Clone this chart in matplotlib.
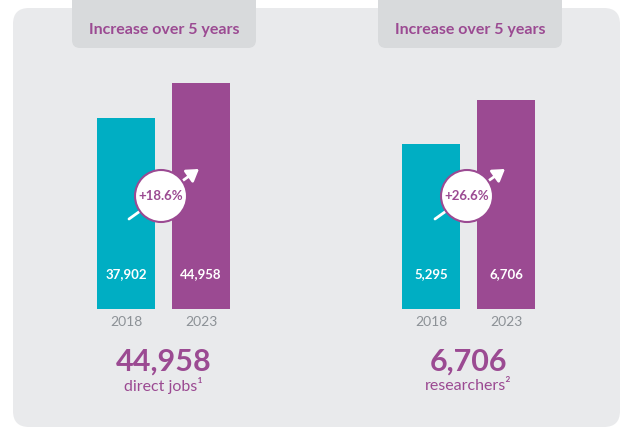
import matplotlib
matplotlib.use('Agg')
import matplotlib.pyplot as plt
from matplotlib.patches import FancyBboxPatch, Circle, FancyArrowPatch

plt.rcParams['font.family'] = ['Lato', 'DejaVu Sans']

# data
years = ['2018', '2023']
jobs = [37902, 44958]
researchers = [5295, 6706]
growth = ['+18.6%', '+26.6%']
totals = ['44,958', '6,706']
captions = ['direct jobs\u00b9', 'researchers\u00b2']
header = 'Increase over 5 years'

teal = '#00AEC3'
purple = '#9B4A92'
panel = '#E9EAEC'
tab = '#D8DADC'
grey = '#8C9196'

W, H = 643, 440
fig = plt.figure(figsize=(W / 100, H / 100), dpi=100)
fig.patch.set_facecolor('white')


def pixel_axes(z):
    a = fig.add_axes([0, 0, 1, 1], zorder=z)
    a.set_xlim(0, W)
    a.set_ylim(H, 0)
    a.axis('off')
    a.patch.set_alpha(0)
    return a


def px(x, y, w, h):
    # pixel box (top-left origin) -> figure fraction rect
    return [x / W, 1 - (y + h) / H, w / W, h / H]


bg = pixel_axes(0)
top = pixel_axes(10)

bg.add_patch(FancyBboxPatch((13, 8), 607, 419, boxstyle='round,pad=0,rounding_size=16',
                            fc=panel, ec='none'))

panels = [
    dict(vals=jobs, x0=72, bars=(97, 172), top=83, circ=(161, 196)),
    dict(vals=researchers, x0=378, bars=(402, 477), top=100, circ=(467, 196)),
]

bottom = 309
bw = 58
for i, p in enumerate(panels):
    # header tab
    bg.add_patch(FancyBboxPatch((p['x0'], 0), 184, 48, boxstyle='round,pad=0,rounding_size=8',
                                fc=tab, ec='none'))
    bg.add_patch(plt.Rectangle((p['x0'], 0), 184, 20, fc=tab, ec='none'))
    bg.text(p['x0'] + 92, 30, header, ha='center', va='center', color=purple,
            fontsize=11.5, fontweight='bold')

    # bars
    left = p['bars'][0]
    right = p['bars'][1] + bw
    step = p['bars'][1] - p['bars'][0]
    width = bw / step
    ax = fig.add_axes(px(left, p['top'], right - left, bottom - p['top']), zorder=5)
    ax.set_xlim(-width / 2, 1 + width / 2)
    ax.set_ylim(0, max(p['vals']))
    ax.axis('off')
    ax.patch.set_alpha(0)
    ax.bar([0, 1], p['vals'], width=width, color=[teal, purple])
    unit = max(p['vals']) / (bottom - p['top'])
    for k, v in enumerate(p['vals']):
        ax.text(k, 35 * unit, f'{v:,}', ha='center', va='center', color='white',
                fontsize=9.5, fontweight='bold')
        ax.text(k, -13 * unit, years[k], ha='center', va='center', color=grey,
                fontsize=10, clip_on=False)

    # growth arrow and circle
    cx, cy = p['circ']
    top.add_patch(FancyArrowPatch((cx - 32, cy + 23), (cx + 38, cy - 27),
                                  arrowstyle='-|>,head_length=7,head_width=4.5',
                                  shrinkA=0, shrinkB=0,
                                  color='white', lw=2, zorder=3))
    top.add_patch(Circle((cx, cy), 26, fc='white', ec=purple, lw=1.5, zorder=4))
    top.text(cx, cy, growth[i], ha='center', va='center', color=purple,
             fontsize=9.5, fontweight='bold', zorder=5)

    # totals
    mid = (left + right) / 2
    bg.text(mid, 362, totals[i], ha='center', va='center', color=purple,
            fontsize=22, fontweight='bold')
    bg.text(mid, 386, captions[i], ha='center', va='center', color=purple,
            fontsize=11.5)

fig.savefig('out.png', dpi=100, facecolor='white')
